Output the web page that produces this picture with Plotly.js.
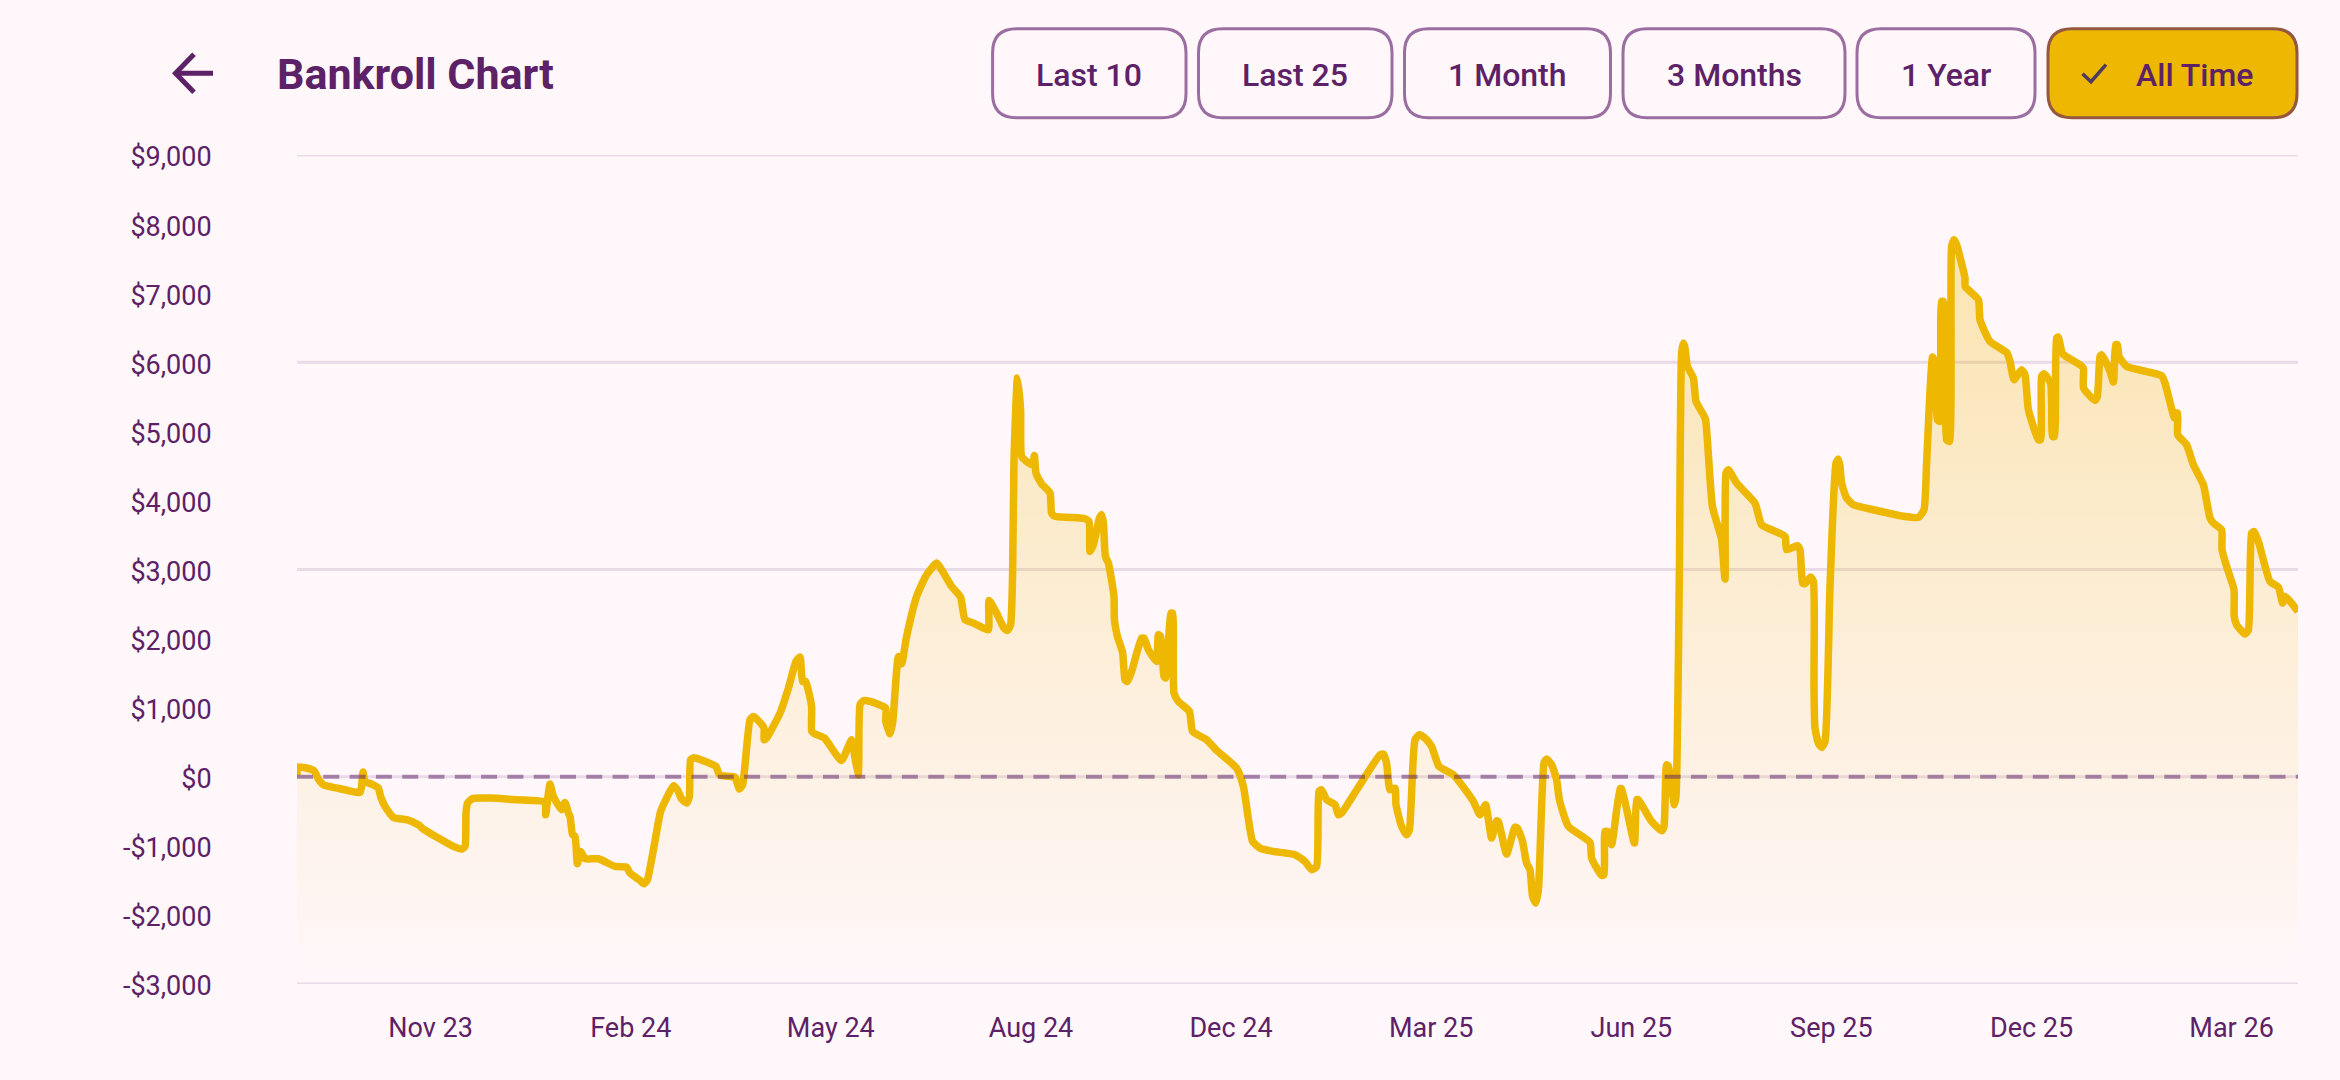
<!DOCTYPE html>
<html>
<head>
<meta charset="utf-8">
<script src="https://cdn.plot.ly/plotly-3.0.1.min.js"></script>
<style>html,body{margin:0;padding:0;background:#FFF7FA;overflow:hidden}#chart{width:2340px;height:1080px}</style>
</head>
<body>
<div id="chart"></div>
<script>
// Position along the timeline and bankroll in dollars.
const timeline = [
0,0.2,4,8.5,10.7,13.2,18.2,24,28.2,31.5,32.3,33,34,37.3,40.7,41.8,44,48.2,54.8,60.7,63.2,69.8,78.2,82.3,84,84.5,85.3,87.8,96.5,109.8,124,124.3,126.5,128.2,132.3,134,135.7,136.5,137.8,139,140.2,141.8,144,150.7,159,164.8,166.5,
171.5,173.5,175.2,178.2,181.8,184.8,188.2,190.2,192.3,194.8,196.2,196.8,198.5,203.2,209.5,211.2,217.3,219,221.2,222.8,226.5,228.2,230.7,233.5,233.6,234.8,241.5,245.7,249.5,251.5,252.8,254.3,257.3,257.4,259,263.7,272.2,277.3,279,280.7,280.8,281.5,283.2,286.5,294.3,294.4,296.5,297.8,300.7,302.3,304.8,309.8,314.8,319.8,322.3,327.3,331.8,334,338.2,343.2,345.7,346,
349.8,353.5,355.3,356.8,357.8,358.5,360.2,361.8,362.3,364.8,367.8,368.7,369.5,372.3,376.5,377.3,379,386.5,394,396,396.5,398.2,401.2,402.3,403.2,404.2,405.7,408.5,408.7,410.2,412.8,414,415.2,417.3,422.3,423.5,425.7,429.8,430.7,431.8,433.5,434.3,437,437.8,438.5,440.7,446.2,447.8,454.8,459.8,469.8,
473.2,477.8,481.5,488.2,499,504,507.3,509.8,511,512.3,514.8,519,520.7,522.3,531.5,541.5,543.2,544.8,546.5,549,549.5,552.3,554.8,556.2,559,561.2,564,567.3,571,578.2,588.2,591.5,594.3,597.3,599.8,600.7,604.8,609,610.2,612.8,614.8,616.5,617.8,619.3,620.7,623.5,624.8,627.3,629.8,631.2,635.7,646.5,647.3,652.3,653.5,654,655.3,657.3,661.5,662.3,668.7,669.8,670.7,677.3,682.3,683.5,684.8,685.7,688.7,689.5,
691.2,692.3,693.2,694,695.2,698.2,699.5,703.2,704.3,707.7,711.5,712.3,714,714.5,715.7,719.8,729,732.3,744,744.8,750.2,751.5,752.8,754,756.8,758.2,758.5,759,760.7,762.3,764,766.5,769.5,770.7,771.5,772.3,774.8,778.2,788.2,804,810.7,813.5,814.8,817.8,819,820.2,821.5,822.3,823.2,824.8,826.2,827.3,828.5,829.8,834,834.1,840.7,841.5,846.5,854.8,856.5,858.5,862.3,864,865.7,870.7,871.8,872.3,873.5,876.8,877.8,878.7,879.8,880.7,882.8,891.5,893.2,893.3,899,900.2,901.5,902.3,906.5,908.2,909.3,910.2,911,914.8,932.3,934,938.7,939.2,940.3,940.4,944.8,948.2,953.2,956.5,958.2,962.3,962.5,964.8,968.5,968.6,969.8,974,975.7,977.3,978.5,980.7,986.5,990.7,992.8,994,1000.5
];
const bankroll = [
20,140,130,87,-34,-116,-154,-188,-217,-227,-140,68,-68,-106,-164,-285,-430,-589,-622,-695,-758,-873,-1008,-1047,-1008,-526,-381,-314,-309,-333,-367,-550,-106,-285,-478,-372,-526,-574,-840,-864,-1259,-1081,-1187,-1187,-1298,-1308,-1395,
-1500,-1549,-1491,-1057,-502,-309,-130,-188,-323,-381,-285,246,275,232,150,29,0,-5,-178,-116,825,873,811,704,535,560,921,1283,1669,1732,1380,1380,1018,656,618,560,236,535,270,29,29,1042,1100,1090,994,800,622,777,1742,1636,2031,2610,2924,3093,2996,2755,2600,2273,2224,2152,2128,2552,
2369,2152,2118,2200,2948,4589,5771,5312,4637,4564,4516,4651,4396,4241,4106,3817,3768,3754,3735,3696,3262,3358,3744,3792,3672,3189,3093,2610,2273,2031,1800,1404,1380,1525,2007,2007,1838,1669,2055,2031,1452,1428,2369,2369,1211,1090,946,656,536,381,125,
-140,-936,-1033,-1081,-1129,-1226,-1346,-1298,-212,-188,-333,-405,-550,-526,-116,318,328,198,-188,-164,-405,-719,-840,-767,536,608,560,439,150,29,-357,-550,-405,-888,-637,-647,-1119,-729,-743,-936,-1250,-1346,-1732,-1829,-1636,198,256,174,-43,-333,-719,-951,-1177,-1428,-1419,-791,-791,-984,-174,-174,-960,-333,-333,-647,-782,-719,174,150,-405,-285,
2996,6133,6277,6205,5940,5771,5433,5240,5168,3913,3527,3431,2861,4396,4444,4251,3961,3648,3479,3286,3344,3286,2803,2794,2890,2827,1308,704,487,425,511,2755,4540,4598,4492,4251,4034,3937,3865,3768,3754,3865,4540,6075,5988,5168,5143,6880,6880,4878,4854,7677,7773,7700,7218,7097,6905,6615,6301,6142,6012,5747,5891,5819,5312,4878,4878,5795,5833,5698,4926,4926,6350,6364,6123,5964,5915,5626,5447,5505,6084,6108,5867,5713,6253,6253,6084,5940,5805,5698,5192,5264,5264,4950,4806,4516,4227,3744,3672,3575,3286,3045,2707,2321,2200,2065,2128,3527,3551,3406,2827,2745,2514,2610,2393
];
const floorValue = [-3000, -3000];
const floorTimeline = [0, 1000.5];
const yTicks = [-3000,-2000,-1000,0,1000,2000,3000,4000,5000,6000,7000,8000,9000];
const yTickLabels = ['-$3,000','-$2,000','-$1,000','$0','$1,000','$2,000','$3,000','$4,000','$5,000','$6,000','$7,000','$8,000','$9,000'];
const gridValues = [-3000,0,3000,6000,9000];
const xTicks = [66.8,166.9,266.9,367,467,567.1,667.2,767.2,867.3,967.3];
const xTickLabels = ['Nov 23','Feb 24','May 24','Aug 24','Dec 24','Mar 25','Jun 25','Sep 25','Dec 25','Mar 26'];
const rangeLabels = ['Last 10','Last 25','1 Month','3 Months','1 Year','All Time'];
const chartTitle = 'Bankroll Chart';

// Page layout, in window pixels.
const W = 2340, H = 1080, L = 297, R = 2298, T = 155.3, B = 984.3;
const px = x => (x - L) / (R - L);
const py = y => (B - y) / (B - T);
const buttonEdges = [[992.6,1186],[1198.5,1392],[1404.5,1610.5],[1623,1845],[1857,2035],[2048,2297]];
const buttonTop = 29, buttonBottom = 118, radius = 24;
const INK = '#5C2166', AMBER = '#EDB702', BG = '#FFF7FA';

function roundedRect(a, b, t, u, r) {
  const P = (x, y) => px(x) + ' ' + py(y);
  return 'M ' + P(a + r, t) + ' L ' + P(b - r, t) + ' Q ' + P(b, t) + ' ' + P(b, t + r) +
    ' L ' + P(b, u - r) + ' Q ' + P(b, u) + ' ' + P(b - r, u) +
    ' L ' + P(a + r, u) + ' Q ' + P(a, u) + ' ' + P(a, u - r) +
    ' L ' + P(a, t + r) + ' Q ' + P(a, t) + ' ' + P(a + r, t) + ' Z';
}
function polyline(points) {
  return points.map((p, i) => (i ? 'L ' : 'M ') + px(p[0]) + ' ' + py(p[1])).join(' ');
}

const shapes = [];
gridValues.forEach(v => shapes.push({type:'line', xref:'paper', yref:'y', x0:0, x1:1, y0:v, y1:v, layer:'below',
  line:{color:'#E9DAE7', width:3}}));
shapes.push({type:'line', xref:'paper', yref:'y', x0:0, x1:1, y0:0, y1:0, layer:'above',
  line:{color:'rgba(92,33,102,0.5)', width:4, dash:'16px,10.3px'}});
buttonEdges.forEach((e, i) => {
  const active = i === buttonEdges.length - 1;
  shapes.push({type:'path', xref:'paper', yref:'paper', layer:'above',
    path: roundedRect(e[0], e[1], buttonTop, buttonBottom, radius),
    fillcolor: active ? AMBER : BG,
    line:{color: active ? '#94583F' : '#9A6EA1', width:3}});
});
shapes.push({type:'path', xref:'paper', yref:'paper', layer:'above', fillcolor:'rgba(0,0,0,0)',
  path: polyline([[2082.5,74],[2091,82],[2106,65]]), line:{color:'#4F3A5C', width:3.5}});
shapes.push({type:'path', xref:'paper', yref:'paper', layer:'above', fillcolor:'rgba(0,0,0,0)',
  path: polyline([[213,73.5],[176,73.5]]), line:{color:INK, width:5}});
shapes.push({type:'path', xref:'paper', yref:'paper', layer:'above', fillcolor:'rgba(0,0,0,0)',
  path: polyline([[194,54.5],[175.5,73.5],[194,92.5]]), line:{color:INK, width:5}});

const annotations = [{
  text:'<b>' + chartTitle + '</b>', xref:'paper', yref:'paper', x:px(275), y:py(74), xanchor:'left', yanchor:'middle',
  showarrow:false, font:{family:'Roboto', size:43, color:INK}
}];
rangeLabels.forEach((label, i) => {
  const e = buttonEdges[i];
  const last = i === rangeLabels.length - 1;
  annotations.push({text:label, xref:'paper', yref:'paper', x:px(last ? 2194 : (e[0] + e[1]) / 2), y:py(75),
    xanchor:'center', yanchor:'middle', showarrow:false,
    font:{family:'Roboto', size:32, color:INK, weight:500}});
});

const traces = [
  {x:floorTimeline, y:floorValue, mode:'lines', line:{width:0}, hoverinfo:'skip', showlegend:false},
  {x:timeline, y:bankroll, mode:'lines', cliponaxis:false, showlegend:false,
   line:{color:AMBER, width:7.5, shape:'spline', smoothing:0.5},
   fill:'tonexty',
   fillgradient:{type:'vertical', start:-3000, stop:7773,
     colorscale:[[0,'rgba(237,183,2,0)'],[1,'rgba(237,183,2,0.3)']]}}
];

const layout = {
  width:W, height:H, autosize:false,
  paper_bgcolor:BG, plot_bgcolor:BG,
  margin:{l:L, r:W - R, t:T, b:H - B, pad:0},
  showlegend:false,
  font:{family:'Roboto', color:INK, size:27},
  xaxis:{range:[0,1000.5], tickmode:'array', tickvals:xTicks, ticktext:xTickLabels, showgrid:false, zeroline:false,
    showline:false, ticks:'outside', ticklen:20, tickcolor:'rgba(0,0,0,0)', tickfont:{family:'Roboto', size:27, color:INK}},
  yaxis:{range:[-3000,9000], tickmode:'array', tickvals:yTicks, ticktext:yTickLabels, showgrid:false, zeroline:false,
    showline:false, ticks:'outside', ticklen:79, ticklabelshift:2, tickcolor:'rgba(0,0,0,0)', tickfont:{family:'Roboto', size:27, color:INK}},
  shapes, annotations
};
Plotly.newPlot('chart', traces, layout, {displayModeBar:false, staticPlot:true});
</script>
</body>
</html>
